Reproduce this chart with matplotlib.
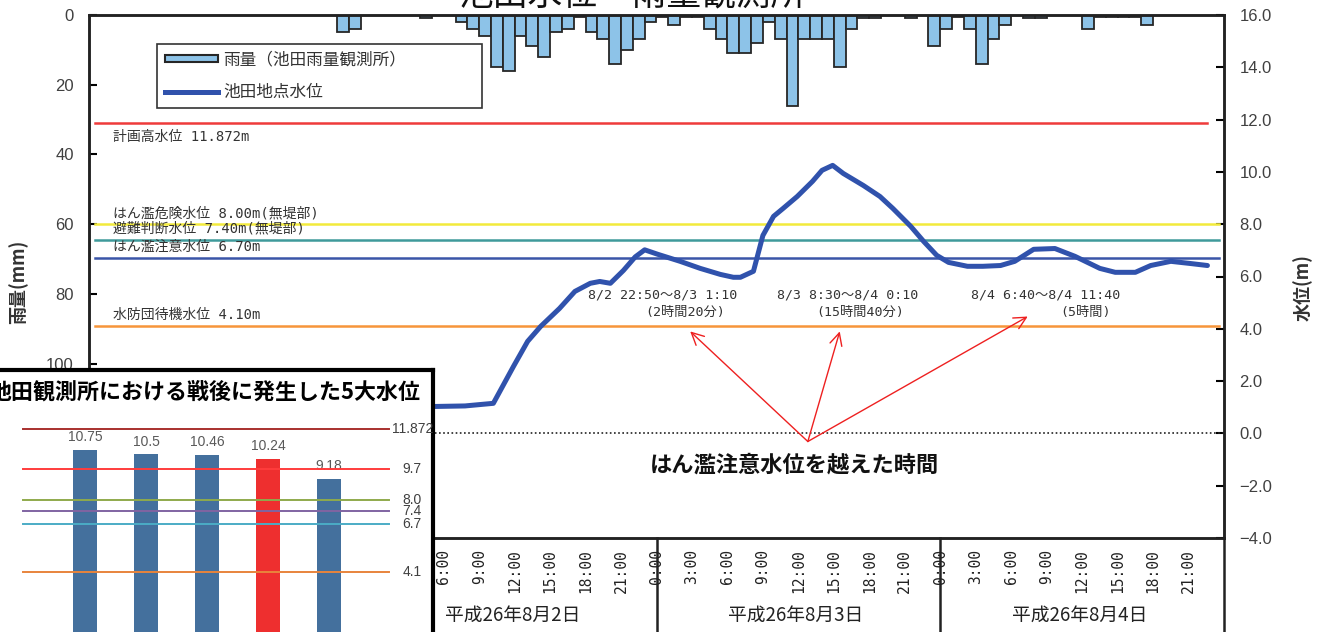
import matplotlib.pyplot as plt
import matplotlib.transforms as mtransforms
from matplotlib.patches import Patch
from matplotlib.lines import Line2D

plt.rcParams['font.family'] = ['Noto Sans CJK JP', 'DejaVu Sans']
mono = ['DejaVu Sans Mono', 'Noto Sans CJK JP']
num_font = ['Liberation Sans', 'DejaVu Sans']

# ---- data ----
# hourly rainfall (mm), 8/1 0:00 .. 8/4 23:00
hours = list(range(96))
rain = [0, 0, 0, 0, 0, 0, 0, 0, 0, 0, 0, 0, 0, 0, 0, 0, 0, 0, 0, 0, 0, 5, 4, 0,
        0, 0, 0, 0, 1, 0, 0, 2, 4, 6, 15, 16, 6, 9, 12, 5, 4, 0.5, 5, 7, 14, 10, 7, 2,
        0.5, 3, 0.5, 0.5, 4, 7, 11, 11, 8, 2, 7, 26, 7, 7, 7, 15, 4, 1, 1, 0, 0, 1, 0, 9,
        4, 0.5, 4, 14, 7, 3, 0, 1, 1, 0, 0, 0, 4, 0.5, 0.5, 0.5, 0.5, 3, 0, 0, 0, 0, 0, 0]

# water level at Ikeda (m), time in hours from 8/1 0:00
level_time = [28, 31.8, 34.2, 35.9, 37.1, 38.2, 39.8, 41.1, 42.4, 43.2, 44.1, 45.2, 46.2,
              47.0, 48.1, 50.0, 51.7, 53.4, 54.5, 55.1, 56.2, 57.0, 57.9, 58.7, 59.9, 61.2,
              62.0, 62.9, 63.8, 65.5, 66.9, 68.0, 69.5, 70.6, 71.7, 72.7, 74.3, 75.6, 77.1,
              78.3, 79.9, 81.7, 83.4, 85.5, 86.8, 88.5, 89.8, 91.5, 93.1, 94.6]
level = [1.02, 1.05, 1.15, 2.56, 3.52, 4.09, 4.78, 5.43, 5.74, 5.81, 5.74, 6.23, 6.75,
         7.02, 6.85, 6.58, 6.31, 6.08, 5.97, 5.97, 6.2, 7.57, 8.3, 8.6, 9.06, 9.64,
         10.06, 10.25, 9.94, 9.48, 9.06, 8.6, 7.92, 7.34, 6.81, 6.54, 6.39, 6.39, 6.42,
         6.58, 7.04, 7.07, 6.77, 6.31, 6.16, 6.16, 6.42, 6.58, 6.5, 6.42]

limits = [11.872, 8.0, 7.4, 6.7, 4.1]
limit_names = ['計画高水位 11.872m', 'はん濫危険水位 8.00m(無堤部)', '避難判断水位 7.40m(無堤部)',
               'はん濫注意水位 6.70m', '水防団待機水位 4.10m']
limit_colors = ['#ef3b3b', '#f2ea3c', '#3f9a9b', '#3a55a8', '#f7953a']

periods = ['8/2 22:50～8/3 1:10', '8/3 8:30～8/4 0:10', '8/4 6:40～8/4 11:40']
durations = ['(2時間20分)', '(15時間40分)', '(5時間)']

days = ['平成26年8月1日', '平成26年8月2日', '平成26年8月3日', '平成26年8月4日']

# inset: top 5 post-war water levels
top5 = [10.75, 10.5, 10.46, 10.24, 9.18]
top5_colors = ['#44709d', '#44709d', '#44709d', '#ee2f2f', '#44709d']
ref_levels = [11.872, 9.7, 8.0, 7.4, 6.7, 4.1]
ref_labels = ['11.872', '9.7', '8.0', '7.4', '6.7', '4.1']
ref_colors = ['#a8302e', '#ff3c3c', '#8faa4c', '#8064a2', '#4bacc6', '#e8843c']

W, H = 1324, 632
fig = plt.figure(figsize=(W / 100, H / 100), dpi=100)

ax = fig.add_axes([89 / W, (H - 538) / H, (1224 - 89) / W, (538 - 15) / H])
ax2 = ax.twinx()

# rainfall bars hanging from the top
ax.bar([h + 0.5 for h in hours], rain, width=1.0, color='#8dc3e8',
       edgecolor='#262626', linewidth=1.3, zorder=2)
ax.set_ylim(150, 0)
ax.set_xlim(0, 96)
ax.set_yticks(range(0, 141, 20))
ax.tick_params(axis='y', direction='in', length=6, width=1.5, pad=11,
               labelsize=12, labelcolor='#404040')
for t in ax.get_yticklabels():
    t.set_family(num_font)

ax.set_xticks(range(0, 96, 3))
ax.set_xticklabels([f'{h % 24}:00' for h in range(0, 96, 3)], rotation=90,
                   family=mono, fontsize=10.5, color='#222222')
ax.tick_params(axis='x', length=0, pad=8)

for s in ax.spines.values():
    s.set_linewidth(1.8)
    s.set_color('#222222')

# day separators below the plot
trans = mtransforms.blended_transform_factory(ax.transData, ax.transAxes)
for d in [0, 24, 48, 72, 96]:
    ax.plot([d, d], [0, -0.2], transform=trans, color='#222222', lw=1.8, clip_on=False)
for i, lab in enumerate(days):
    ax.text(12 + 24 * i - 0.2, -0.147, lab, transform=trans, ha='center', va='center',
            fontsize=13.5, color='#222222')

# water level
ax2.set_ylim(-4, 16)
ax2.set_yticks(range(-4, 17, 2))
ax2.set_yticklabels([f'{v:.1f}'.replace('-', '\u2212') for v in range(-4, 17, 2)],
                    family=num_font)
ax2.tick_params(axis='y', direction='in', length=6, width=1.5, pad=11,
                labelsize=12, labelcolor='#404040')
for s in ax2.spines.values():
    s.set_linewidth(1.8)
    s.set_color('#222222')

for lv, name, c in zip(limits, limit_names, limit_colors):
    xmax = 94.6 if lv > 11 else 95.6
    ax2.plot([0.5, xmax], [lv, lv], color=c, lw=1.8, zorder=2)
    if lv > 11:
        ax2.annotate(name, xy=(2, lv), xytext=(0, -5), textcoords='offset points',
                     va='top', ha='left', fontsize=10, family=mono, color='#333333')
    else:
        ax2.annotate(name, xy=(2, lv), xytext=(0, 3), textcoords='offset points',
                     va='bottom', ha='left', fontsize=10, family=mono, color='#333333')

ax2.axhline(0, color='#222222', ls=(0, (1, 1.5)), lw=1.2, zorder=2)
ax2.plot(level_time, level, color='#3052ac', lw=3.6, zorder=4, solid_capstyle='round')

# exceedance periods and arrows
period_pos = [(48.5, 5.28), (64.2, 5.28), (80.9, 5.28)]
duration_pos = [(50.4, 4.63), (65.2, 4.63), (84.3, 4.63)]
arrow_tips = [(50.85, 3.9), (63.5, 3.9), (79.4, 4.47)]
for p, xy in zip(periods, period_pos):
    ax2.text(xy[0], xy[1], p, ha='center', va='center', fontsize=9.5, family=mono,
             color='#333333')
for p, xy in zip(durations, duration_pos):
    ax2.text(xy[0], xy[1], p, ha='center', va='center', fontsize=9.5, family=mono,
             color='#333333')
for tip in arrow_tips:
    ax2.annotate('', xy=tip, xytext=(60.8, -0.31),
                 arrowprops=dict(arrowstyle='->', color='#ee2020', lw=1.0,
                                 mutation_scale=22, shrinkA=0, shrinkB=0))
ax2.text(59.7, -1.22, 'はん濫注意水位を越えた時間', ha='center', va='center',
         fontsize=16, fontweight='bold', color='#111111')

# legend
handles = [Patch(facecolor='#8dc3e8', edgecolor='#262626', linewidth=1.5),
           Line2D([0], [0], color='#3052ac', lw=3.6)]
leg = ax2.legend(handles, ['雨量（池田雨量観測所）', '池田地点水位'],
                 loc='upper left', mode='expand', borderaxespad=0,
                 bbox_to_anchor=(157 / W, 1 - 109 / H, 325 / W, 65 / H),
                 bbox_transform=fig.transFigure, fontsize=12, frameon=True,
                 fancybox=False, edgecolor='#333333', framealpha=1,
                 handlelength=3.2, handleheight=0.35, handletextpad=0.3,
                 labelspacing=0.9, borderpad=0.45)
leg.get_frame().set_linewidth(1.2)
for t in leg.get_texts():
    t.set_color('#333333')

# titles and axis labels
fig.text(632 / W, 1 + 5 / H, '池田水位・雨量観測所', ha='center', va='center',
         fontsize=25, color='#111111')
fig.text(18 / W, 1 - 282 / H, '雨量(mm)', rotation=90, ha='center', va='center',
         fontsize=13, fontweight='bold', color='#333333')
fig.text(1303 / W, 1 - 288 / H, '水位(m)', rotation=90, ha='center', va='center',
         fontsize=13, fontweight='bold', color='#333333')

# inset chart
ax_in = fig.add_axes([-10 / W, -8 / H, 443 / W, 270 / H])
ax_in.set_zorder(10)
ax_in.set_facecolor('white')
ax_in.set_xlim(-1.557, 5.705)
ax_in.set_ylim(0.405, 15.08)
bars = ax_in.bar(range(5), top5, width=0.39, color=top5_colors, zorder=2)
ax_in.bar_label(bars, labels=[f'{v:g}' for v in top5], padding=4, fontsize=10,
                color='#595959', family=['Liberation Sans', 'DejaVu Sans'])
for lv, lab, c in zip(ref_levels, ref_labels, ref_colors):
    ax_in.plot([-1.016, 4.98], [lv, lv], color=c, lw=1.4, zorder=3)
    xt = 5.03 if lv > 11 else 5.2
    ax_in.text(xt, lv, lab, ha='left', va='center', fontsize=10, color='#404040',
               family=['Liberation Sans', 'DejaVu Sans'])
ax_in.set_xticks([])
ax_in.set_yticks([])
ax_in.spines['left'].set_visible(False)
ax_in.spines['bottom'].set_visible(False)
ax_in.spines['top'].set_linewidth(3)
ax_in.spines['right'].set_linewidth(3)
ax_in.spines['top'].set_color('black')
ax_in.spines['right'].set_color('black')
ax_in.text(420 / W, 1 - 392 / H, '池田観測所における戦後に発生した5大水位',
           transform=fig.transFigure, ha='right', va='center', fontsize=15.8,
           fontweight='bold', color='black')

fig.savefig('out.png', dpi=100)
